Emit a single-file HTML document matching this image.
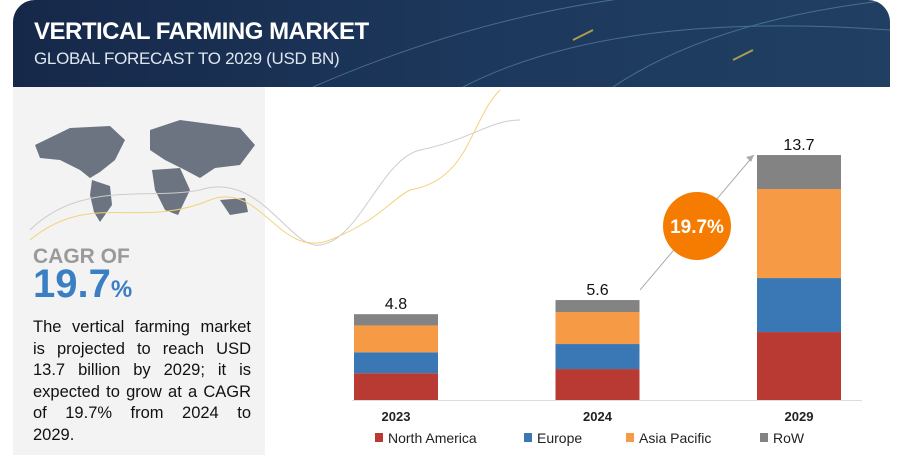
<!DOCTYPE html>
<html><head><meta charset="utf-8"><style>
body{margin:0;width:900px;height:461px;background:#fff;font-family:"Liberation Sans",sans-serif;overflow:hidden;position:relative}
.hdr{position:absolute;left:13px;top:0;width:877px;height:87px;background:linear-gradient(90deg,#16284a,#1d3a5e 60%,#203f63);border-radius:22px 22px 0 0;overflow:hidden}
.hdr h1{position:absolute;left:21px;top:18px;margin:0;color:#fff;font-size:24px;font-weight:bold;letter-spacing:-0.5px}
.hdr h2{position:absolute;left:21px;top:49px;margin:0;color:#dfe6ee;font-size:17px;font-weight:normal;letter-spacing:-0.3px}
.left{position:absolute;left:13px;top:87px;width:252px;height:368px;background:#f3f3f3}
.cagr1{position:absolute;left:33px;top:245px;font-size:21px;color:#9a9a9a;font-weight:bold}
.cagr2{position:absolute;left:33px;top:262px;font-size:40px;color:#3a7fc4;font-weight:bold}
.cagr2 span{font-size:24px}
.desc{position:absolute;left:33px;top:317px;width:218px;font-size:16.5px;line-height:21.5px;color:#111}
.desc div{text-align:justify;text-align-last:justify;white-space:nowrap}
.desc div:last-child{text-align-last:left}
</style></head><body>
<div class="hdr">
<svg width="877" height="87" style="position:absolute;left:0;top:0"><g stroke="#6fa0c8" stroke-width="1" fill="none" opacity="0.5"><path d="M300 87 Q500 0 700 -10"/><path d="M450 87 Q600 10 877 30"/><path d="M600 87 Q700 20 877 0"/></g><g stroke="#e6c54a" stroke-width="2" opacity="0.7"><line x1="560" y1="40" x2="580" y2="30"/><line x1="720" y1="60" x2="740" y2="50"/></g></svg>
<h1>VERTICAL FARMING MARKET</h1>
<h2>GLOBAL FORECAST TO 2029 (USD BN)</h2>
</div>
<div class="left"></div>
<svg width="900" height="461" style="position:absolute;left:0;top:0">
<g fill="#6b7480">
<path d="M35 145 L70 128 L110 126 L125 140 L115 160 L100 172 L90 178 L80 170 L60 160 L40 158Z"/>
<path d="M92 180 L110 186 L112 205 L100 222 L94 212 L90 195Z"/>
<path d="M150 130 L180 120 L240 128 L255 145 L240 165 L215 168 L200 178 L185 170 L165 160 L150 150Z"/>
<path d="M152 170 L180 168 L190 190 L178 215 L165 210 L155 190Z"/>
<path d="M220 200 L245 198 L248 212 L230 215Z"/>
</g>
<path d="M30 230 C80 180 150 200 200 190 C260 170 290 250 320 245 C360 240 380 160 420 150 C470 140 490 120 520 120" stroke="#ccc" fill="none"/>
<path d="M30 240 C90 190 140 230 210 200 C260 180 280 260 330 240 C380 220 390 200 410 190 C470 180 470 120 500 90" stroke="#f2d27a" fill="none"/>
<g id="chart"></g>
</svg>
<div class="cagr1">CAGR OF</div>
<div class="cagr2">19.7<span>%</span></div>
<div class="desc"><div>The vertical farming market</div><div>is projected to reach USD</div><div>13.7 billion by 2029; it is</div><div>expected to grow at a CAGR</div><div>of 19.7% from 2024 to</div><div>2029.</div></div>
<script>
const categories=["2023","2024","2029"];
const totals=["4.8","5.6","13.7"];
const northAmerica=[1.5,1.73,3.8];
const europe=[1.17,1.4,3.02];
const asiaPacific=[1.5,1.79,4.98];
const row=[0.63,0.67,1.9];
const seriesNames=["North America","Europe","Asia Pacific","RoW"];
const colors=["#b83a32","#3a78b5","#f79a45","#838383"];
const series=[northAmerica,europe,asiaPacific,row];
const NS="http://www.w3.org/2000/svg";
const g=document.getElementById('chart');
const base=400, scale=17.88;
const xC=i=>396+i*201.5;
const yS=v=>base-v*scale;
function mk(t,a){const e=document.createElementNS(NS,t);for(const k in a)e.setAttribute(k,a[k]);g.appendChild(e);return e;}
const ax=mk('line',{x1:352,x2:862,y1:base+0.5,y2:base+0.5,stroke:'#ddd'});


const tops=[];
categories.forEach((c,i)=>{
  let cum=0;
  series.forEach((s,j)=>{
    const r=mk('rect',{x:xC(i)-42,y:yS(cum+s[i]),width:84,height:s[i]*scale,fill:colors[j]});
    
    
    cum+=s[i];
  });
  tops.push(yS(cum));
  const t=mk('text',{x:xC(i),y:yS(cum)-5,'text-anchor':'middle','font-size':16,fill:'#111'});
  t.textContent=totals[i];
  
  
  const l=mk('text',{x:xC(i),y:421,'text-anchor':'middle','font-size':13,fill:'#222','font-weight':'bold'});
  l.textContent=c;
  
  
});
const ar=mk('line',{x1:640,y1:tops[1]-10,x2:754,y2:tops[2],stroke:'#aaa','stroke-width':1});


const ah=mk('path',{d:`M754 ${tops[2]} l-8 2 l5 5z`,fill:'#aaa'});


const ci=mk('circle',{cx:697,cy:226,r:34,fill:'#f57c00'});


const ct=mk('text',{x:697,y:233,'text-anchor':'middle','font-size':19,fill:'#fff','font-weight':'bold'});
ct.textContent='19.7%';


const lx=[375,524,626,760];
seriesNames.forEach((n,j)=>{
  const r=mk('rect',{x:lx[j],y:433,width:8,height:9,fill:colors[j]});
  
  
  const t=mk('text',{x:lx[j]+13,y:443,'font-size':14,fill:'#222'});
  t.textContent=n;
  
  
});
</script>
</body></html>
